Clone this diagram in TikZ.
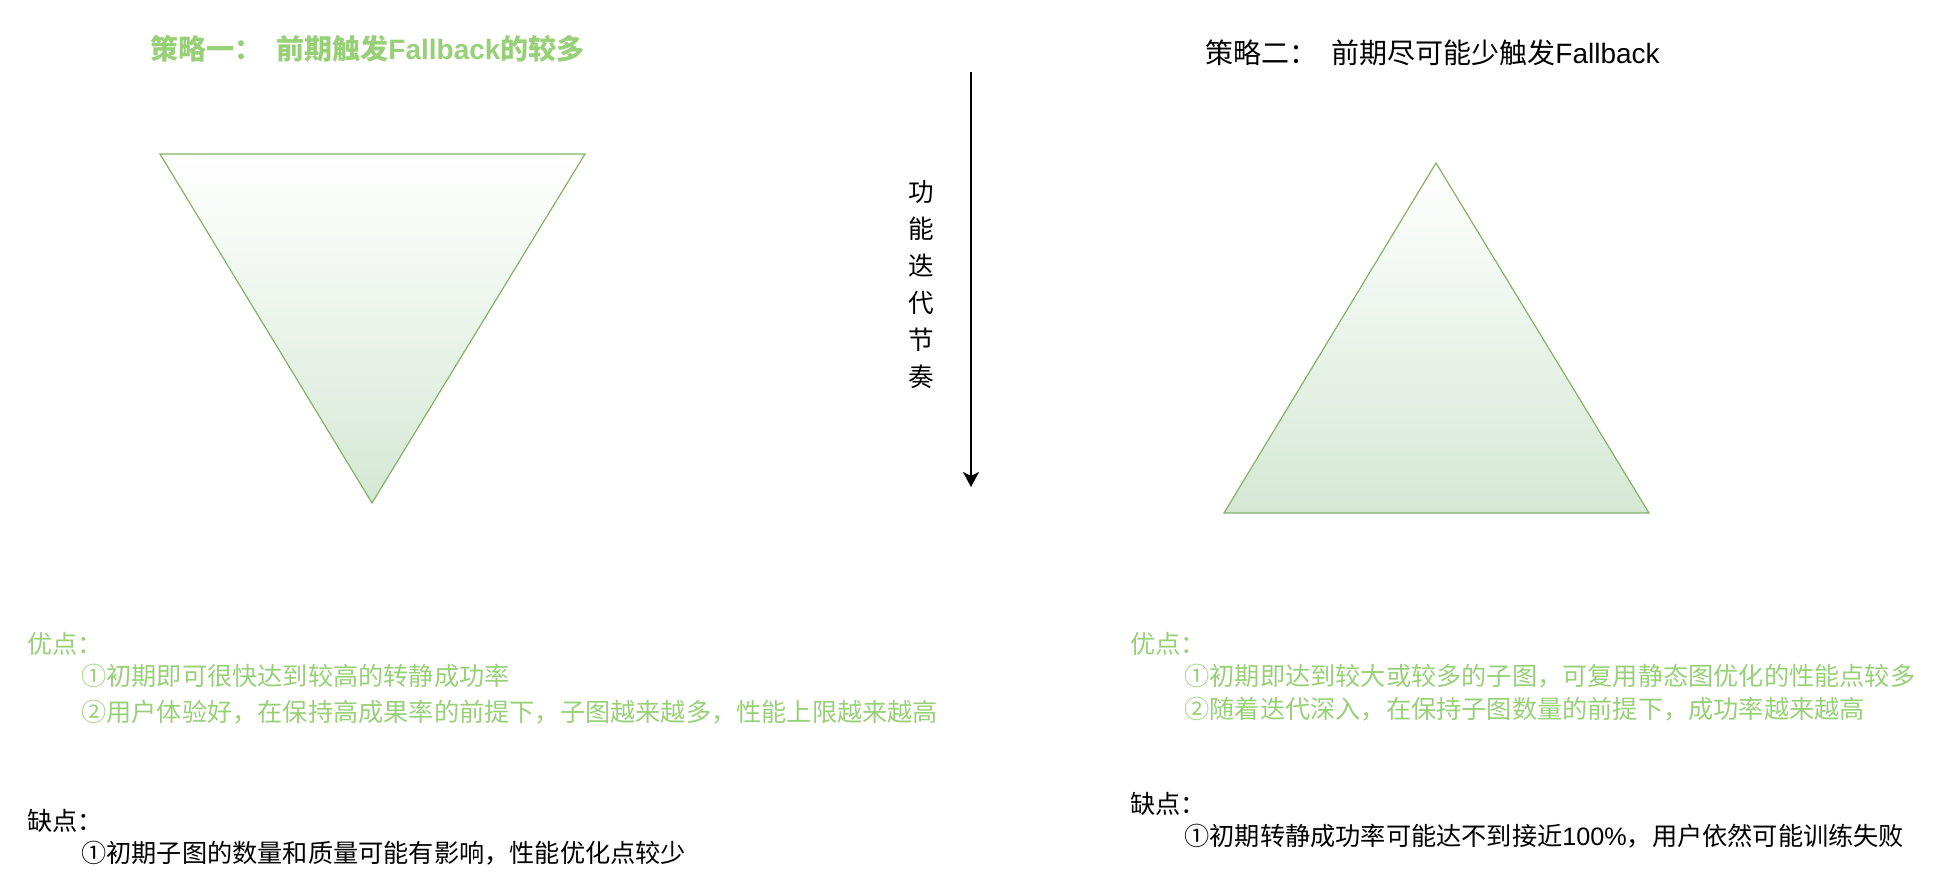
\documentclass[tikz,border=0pt]{standalone}
\usepackage{fontspec}
\setmainfont{Noto Sans CJK SC}
\newfontfamily\latinfont{Liberation Sans}
\newcommand{\lat}[1]{{\latinfont #1}}
\usetikzlibrary{arrows.meta}
\definecolor{strokegreen}{HTML}{82B366}
\definecolor{fillgreen}{HTML}{D5E8D4}
\definecolor{textgreen}{HTML}{97D077}
\begin{document}
\begin{tikzpicture}[x=0.5pt, y=-0.5pt,
                    every node/.style={inner sep=0pt, font=\fontsize{12.6}{15}\selectfont},
                    heading/.style={anchor=west, font=\fontsize{14}{16}\selectfont},
                    prolist/.style={anchor=west, text=textgreen},
                    conlist/.style={anchor=west},
                    tri/.style={draw=strokegreen, line width=0.6pt, top color=white, bottom color=fillgreen}
                ]
                \useasboundingbox (0,0) rectangle (1934,878);

                % titres
                \node[heading, text=textgreen, font=\fontsize{14}{16}\selectfont\bfseries] (titleA) at (150,49) {策略一：\hspace{0.5em}前期触发\lat{Fallback}的较多};
                \node[heading] (titleB) at (1205,53) {策略二：\hspace{0.5em}前期尽可能少触发\lat{Fallback}};

                % triangles
                \path[tri] (160,154) -- (585,154) -- (372,503) -- cycle;
                \path[tri] (1436,163) -- (1649,513) -- (1224,513) -- cycle;

                % axe vertical
                \coordinate (axistop) at (971,72);
                \coordinate (axisend) at (971,487);
                \draw[-{Stealth[length=7.5pt, width=8pt, inset=2pt]}, line width=0.9pt] (axistop) -- (axisend);
                \node[align=center, font=\fontsize{12.8}{18.5}\selectfont] (rhythm) at (921,285) {功\\能\\迭\\代\\节\\奏};

                % strategie 1
                \node[prolist] (prosA) at (27,644) {优点：};
                \node[prolist] (prosA1) at (81,676) {①初期即可很快达到较高的转静成功率};
                \node[prolist] (prosA2) at (81,712) {②用户体验好，在保持高成果率的前提下，子图越来越多，性能上限越来越高};
                \node[conlist] (consA) at (27,821) {缺点：};
                \node[conlist] (consA1) at (81,853) {①初期子图的数量和质量可能有影响，性能优化点较少};

                % strategie 2
                \node[prolist] (prosB) at (1130,644) {优点：};
                \node[prolist] (prosB1) at (1184,676) {①初期即达到较大或较多的子图，可复用静态图优化的性能点较多};
                \node[prolist] (prosB2) at (1184,709) {②随着迭代深入，在保持子图数量的前提下，成功率越来越高};
                \node[conlist] (consB) at (1130,804) {缺点：};
                \node[conlist] (consB1) at (1184,836) {①初期转静成功率可能达不到接近\lat{100\%}，用户依然可能训练失败};
\end{tikzpicture}
\end{document}
